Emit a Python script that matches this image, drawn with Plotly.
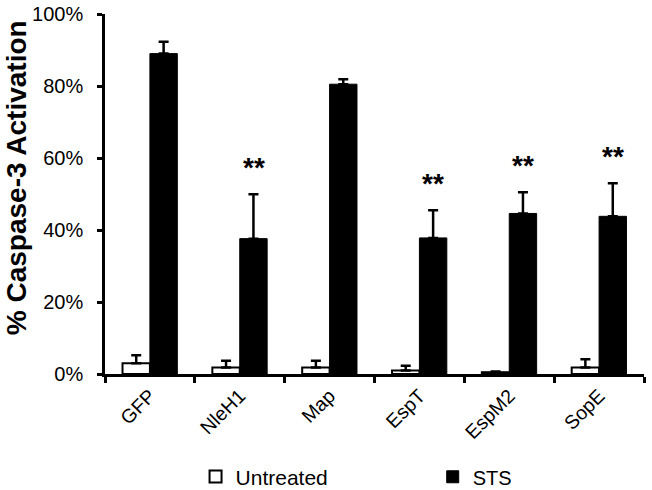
import plotly.graph_objects as go

categories = ["GFP", "NleH1", "Map", "EspT", "EspM2", "SopE"]
untreated = [3.0, 1.8, 1.8, 1.0, 0.5, 1.8]
untreated_err = [2.2, 1.9, 1.9, 1.3, 0.2, 2.3]
sts = [89.0, 37.6, 80.5, 37.8, 44.6, 43.8]
sts_err = [3.3, 12.3, 1.4, 7.7, 5.9, 9.2]
significance = ["", "**", "", "**", "**", "**"]
y_ticks = [0, 20, 40, 60, 80, 100]
y_tick_labels = ["0%", "20%", "40%", "60%", "80%", "100%"]
y_title = "% Caspase-3 Activation"

FONT = "Arial, Liberation Sans, sans-serif"

fig = go.Figure()
fig.add_trace(go.Bar(
    name="Untreated", x=categories, y=untreated, legend="legend",
    marker=dict(color="white", line=dict(color="black", width=2)),
    error_y=dict(type="data", array=untreated_err, arrayminus=[0]*len(untreated),
                 symmetric=False, color="black", thickness=2.5, width=5),
))
fig.add_trace(go.Bar(
    name="STS", x=categories, y=sts, legend="legend2",
    marker=dict(color="black", line=dict(color="black", width=1)),
    error_y=dict(type="data", array=sts_err, arrayminus=[0]*len(sts),
                 symmetric=False, color="black", thickness=2.5, width=5),
))

for i, s in enumerate(significance):
    if s:
        fig.add_annotation(
            x=categories[i], xshift=14, y=sts[i] + sts_err[i], yshift=9,
            text="<b>%s</b>" % s, showarrow=False, yanchor="bottom",
            font=dict(family=FONT, size=28, color="black"),
        )

# y-axis title (placed as rotated text to match the reference's position)
fig.add_annotation(
    xref="paper", yref="paper", x=-0.165, y=0.544, textangle=-90,
    text="<b>%s</b>" % y_title, showarrow=False,
    xanchor="center", yanchor="middle",
    font=dict(family=FONT, size=28, color="black"),
)

legend_common = dict(orientation="h", yref="container", y=0.027, yanchor="middle",
                     xanchor="left", bgcolor="rgba(0,0,0,0)")

fig.update_layout(
    width=652, height=490,
    margin=dict(l=105, r=8, t=14, b=116),
    plot_bgcolor="white", paper_bgcolor="white",
    barmode="group", bargap=0.39, bargroupgap=0,
    font=dict(family=FONT, color="black"),
    showlegend=True,
    legend=dict(x=0.168, font=dict(family=FONT, size=21, color="black"), **legend_common),
    legend2=dict(x=0.608, font=dict(family=FONT, size=20, color="black"), **legend_common),
    yaxis=dict(
        range=[0, 100], tickvals=y_ticks, ticktext=y_tick_labels,
        showgrid=False, zeroline=False, automargin=False,
        showline=True, linecolor="black", linewidth=2.5,
        ticks="outside", ticklen=5, tickwidth=2.5, tickcolor="black",
        ticklabelstandoff=10,
        tickfont=dict(family=FONT, size=20, color="black"),
    ),
    xaxis=dict(
        showgrid=False, showline=True, linecolor="black", linewidth=2.5,
        automargin=False,
        ticks="outside", tickson="boundaries", ticklen=6, tickwidth=2.5, tickcolor="black",
        tickangle=-45, tickfont=dict(family=FONT, size=19.5, color="black"),
    ),
)

fig.write_html("out.html", config={"displayModeBar": False},
               post_script="document.body.style.margin='0';")
